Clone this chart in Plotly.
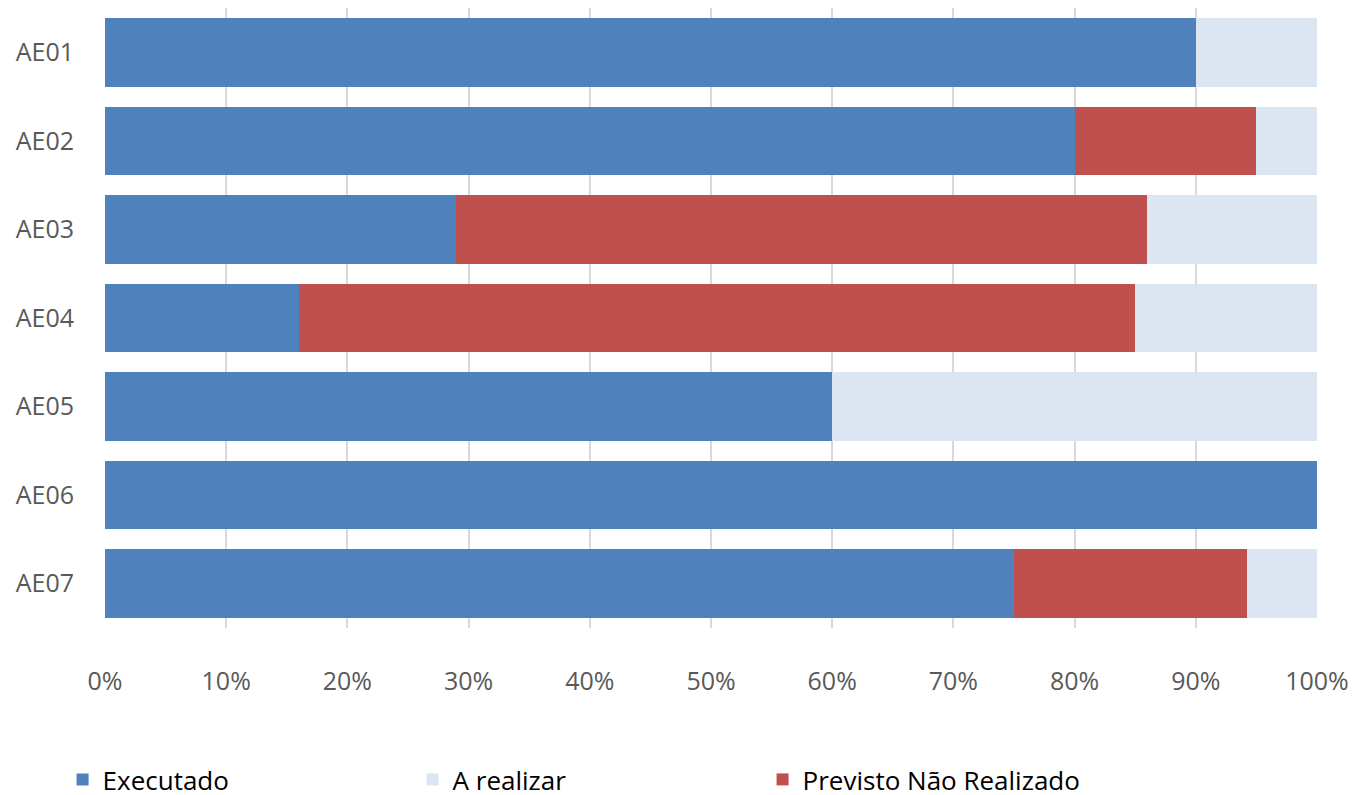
import plotly.graph_objects as go

categories = ["AE01", "AE02", "AE03", "AE04", "AE05", "AE06", "AE07"]
executado = [90, 80, 29, 16, 60, 100, 75]
previsto_nao_realizado = [0, 15, 57, 69, 0, 0, 19.2]
a_realizar = [10, 5, 14, 15, 40, 0, 5.8]
tick_vals = [0, 10, 20, 30, 40, 50, 60, 70, 80, 90, 100]
tick_text = ["0%", "10%", "20%", "30%", "40%", "50%", "60%", "70%", "80%", "90%", "100%"]

fig = go.Figure()
fig.add_trace(go.Bar(y=categories, x=executado, orientation="h", name="Executado",
                     marker=dict(color="#4F81BD", line=dict(width=0)), legendrank=1))
fig.add_trace(go.Bar(y=categories, x=previsto_nao_realizado, orientation="h",
                     name="Previsto Não Realizado",
                     marker=dict(color="#C0504D", line=dict(width=0)), legendrank=3))
fig.add_trace(go.Bar(y=categories, x=a_realizar, orientation="h", name="A realizar",
                     marker=dict(color="#DCE6F2", line=dict(width=0)), legendrank=2))

fig.update_layout(
    barmode="stack",
    bargap=0.225,
    width=1358, height=795,
    margin=dict(l=97, r=49, t=0, b=171),
    paper_bgcolor="white", plot_bgcolor="white",
    font=dict(family="Open Sans", color="#595959"),
    showlegend=True,
    legend=dict(orientation="h", x=-0.035, xanchor="left", y=-0.245, yanchor="middle",
                font=dict(size=26, color="#000000", family="Open Sans"),
                entrywidth=305, entrywidthmode="pixels", traceorder="normal",
                itemsizing="constant"),
)
fig.update_xaxes(range=[0, 100], tickvals=tick_vals, ticktext=tick_text,
                 showgrid=True, gridcolor="#D9D9D9", gridwidth=2,
                 zeroline=False, showline=False, ticks="",
                 tickfont=dict(size=25, color="#595959"), ticklabelstandoff=36)
fig.update_yaxes(autorange="reversed", showgrid=False, zeroline=False, showline=False,
                 ticks="", tickfont=dict(size=25, color="#595959"), ticklabelstandoff=30)

fig.write_html("out.html")
